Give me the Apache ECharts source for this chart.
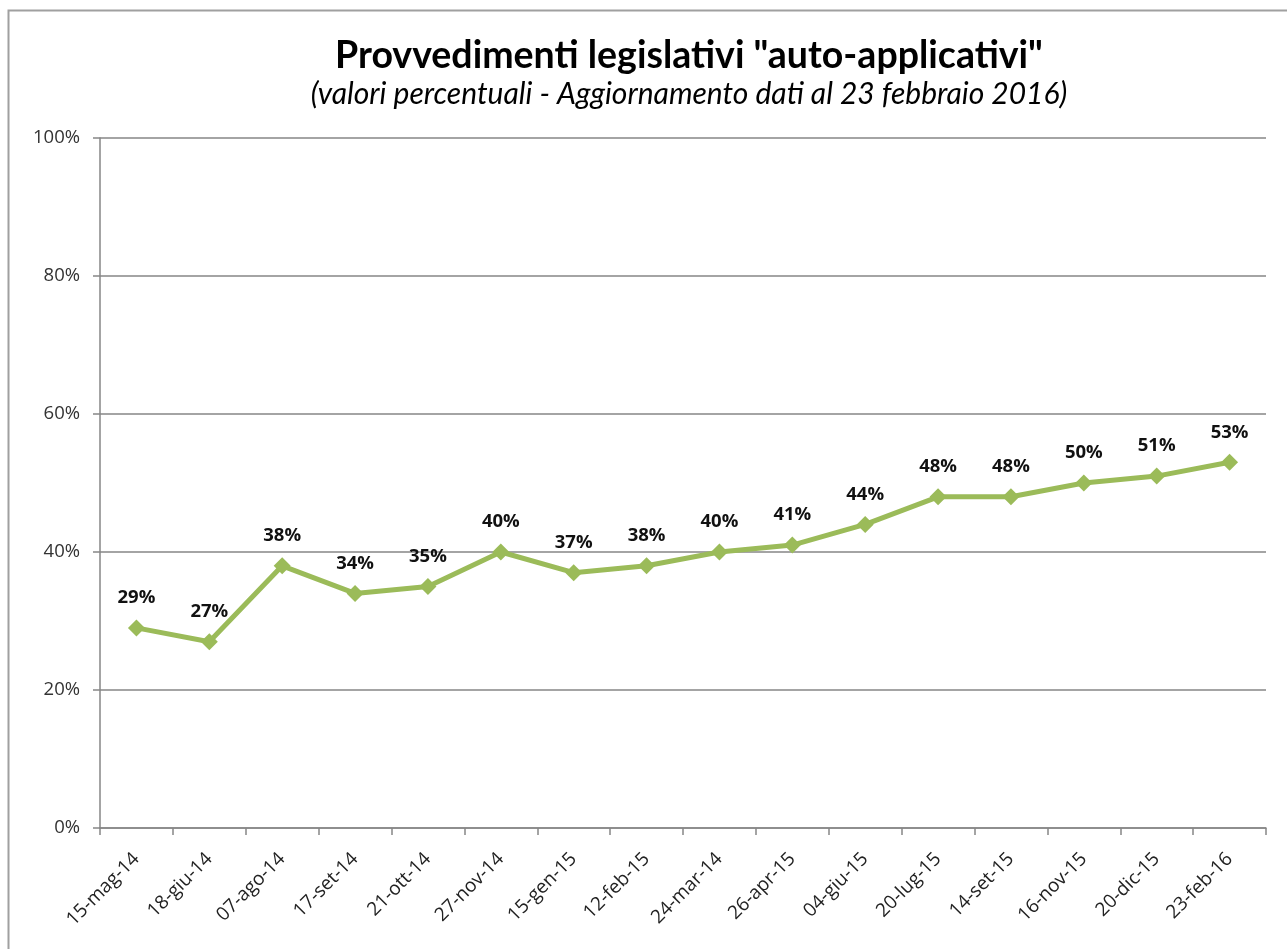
<!DOCTYPE html>
<html><head><meta charset="utf-8">
<script src="https://cdn.jsdelivr.net/npm/echarts@6/dist/echarts.min.js"></script>
<style>html,body{margin:0;padding:0;background:#fff;}#c{width:1287px;height:949px;}</style>
</head><body><div id="c"></div>
<script>
const categories = ['15-mag-14','18-giu-14','07-ago-14','17-set-14','21-ott-14','27-nov-14','15-gen-15','12-feb-15','24-mar-14','26-apr-15','04-giu-15','20-lug-15','14-set-15','16-nov-15','20-dic-15','23-feb-16'];
const values = [29,27,38,34,35,40,37,38,40,41,44,48,48,50,51,53];
const titleText = 'Provvedimenti legislativi "auto-applicativi"';
const subtitleText = '(valori percentuali - Aggiornamento dati al 23 febbraio 2016)';

const chart = echarts.init(document.getElementById('c'), null, {renderer:'canvas'});
chart.setOption({
  animation:false,
  backgroundColor:'#fff',
  graphic:[{type:'rect',shape:{x:8.5,y:10.5,width:1300,height:1000},style:{fill:'none',stroke:'#a0a0a0',lineWidth:2},silent:true}],
  title:[
    {text:titleText,left:684,top:32,textAlign:'center',textStyle:{fontFamily:'Lato',fontWeight:'bold',fontSize:37.5,color:'#000'}},
    {text:subtitleText,left:684,top:74,textAlign:'center',textStyle:{fontFamily:'Lato',fontStyle:'italic',fontWeight:'normal',fontSize:30,color:'#000'}}
  ],
  grid:{left:100,right:21,top:138,bottom:121,containLabel:false},
  xAxis:{type:'category',data:categories,boundaryGap:true,
    axisLine:{lineStyle:{color:'#868686',width:1.5}},
    axisTick:{show:true,length:7,lineStyle:{color:'#868686',width:1.5},alignWithLabel:false},
    axisLabel:{rotate:45,interval:0,fontFamily:'Open Sans',fontSize:19,color:'#222',margin:28}
  },
  yAxis:{type:'value',min:0,max:100,interval:20,
    axisLine:{show:true,lineStyle:{color:'#868686',width:1.5}},
    axisTick:{show:true,length:7,lineStyle:{color:'#868686',width:1.5}},
    axisLabel:{formatter:'{value}%',fontFamily:'Open Sans',fontSize:18.5,color:'#333',margin:20},
    splitLine:{lineStyle:{color:'#868686',width:1.5}}
  },
  series:[{type:'line',data:values,symbol:'diamond',symbolSize:17,
    lineStyle:{color:'#9BBB59',width:5},itemStyle:{color:'#9BBB59'},
    label:{show:true,position:'top',distance:12,formatter:'{c}%',fontFamily:'Open Sans',fontWeight:'bold',fontSize:18.5,color:'#111'}
  }]
});
</script></body></html>
